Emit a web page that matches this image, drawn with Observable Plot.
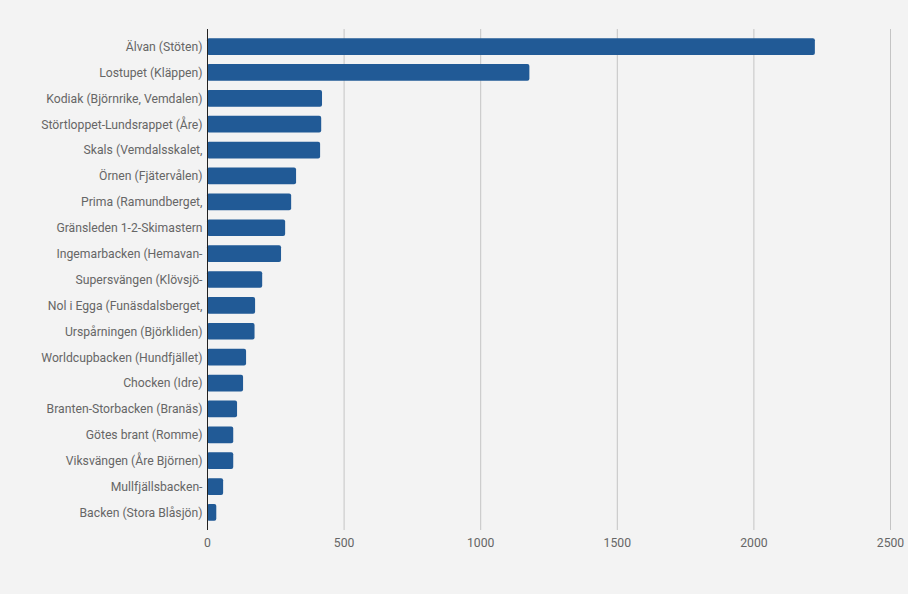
<!DOCTYPE html>
<html>
<head>
<meta charset="utf-8">
<script src="https://cdn.jsdelivr.net/npm/d3@7"></script>
<script src="https://cdn.jsdelivr.net/npm/@observablehq/plot@0.6"></script>
<style>
  html, body { margin: 0; padding: 0; background: #f3f3f3; }
  #chart { width: 908px; height: 594px; }
</style>
</head>
<body>
<div id="chart"></div>
<script>
const slopes = [
  "Älvan (Stöten)",
  "Lostupet (Kläppen)",
  "Kodiak (Björnrike, Vemdalen)",
  "Störtloppet-Lundsrappet (Åre)",
  "Skals (Vemdalsskalet,",
  "Örnen (Fjätervålen)",
  "Prima (Ramundberget,",
  "Gränsleden 1-2-Skimastern",
  "Ingemarbacken (Hemavan-",
  "Supersvängen (Klövsjö-",
  "Nol i Egga (Funäsdalsberget,",
  "Urspårningen (Björkliden)",
  "Worldcupbacken (Hundfjället)",
  "Chocken (Idre)",
  "Branten-Storbacken (Branäs)",
  "Götes brant (Romme)",
  "Viksvängen (Åre Björnen)",
  "Mullfjällsbacken-",
  "Backen (Stora Blåsjön)"
];
const values = [2225, 1180, 421, 418, 414, 326, 308, 286, 271, 202, 176, 174, 143, 132, 110, 96, 96, 59, 34];
const xTicks = [0, 500, 1000, 1500, 2000, 2500];

const data = slopes.map((name, i) => ({name, value: values[i]}));

const chart = Plot.plot({
  width: 908,
  height: 594,
  marginLeft: 207,
  marginRight: 18,
  marginTop: 29,
  marginBottom: 64,
  style: {background: "#f3f3f3", fontFamily: "Roboto", fontSize: "12.2px", color: "#666"},
  x: {domain: [0, 2500], ticks: xTicks, tickFormat: d3.format("d"), label: null, tickSize: 0, tickPadding: 8},
  y: {domain: slopes, padding: 0.355, round: false, label: null, tickSize: 0, tickPadding: 5},
  marks: [
    Plot.ruleX(xTicks.slice(1), {stroke: "#c4c4c4", strokeWidth: 1}),
    Plot.barX(data, {x: "value", y: "name", fill: "#215a96", rx: 2}),
    Plot.ruleX([0], {stroke: "#222", strokeWidth: 1})
  ]
});
document.getElementById("chart").appendChild(chart);
</script>
</body>
</html>
